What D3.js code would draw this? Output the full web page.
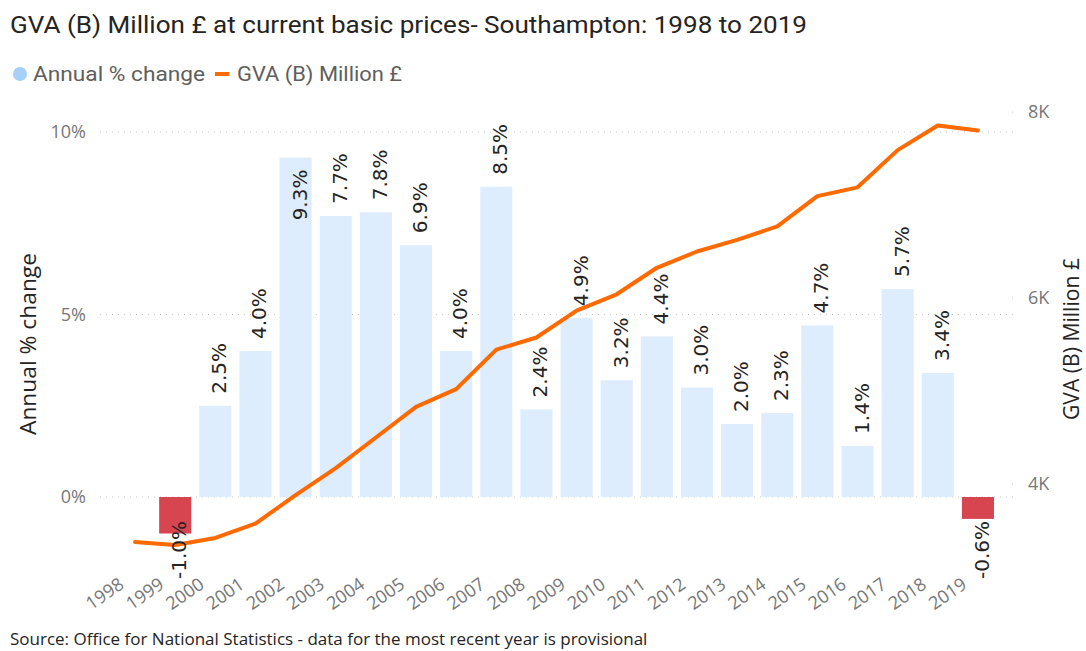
<!DOCTYPE html>
<html>
<head>
<meta charset="utf-8">
<script src="https://cdn.jsdelivr.net/npm/d3@7"></script>
<style>
  body { margin: 0; background: #fff; }
  svg { display: block; font-family: 'Segoe UI', 'Open Sans', sans-serif; }
</style>
</head>
<body>
<svg id="svg"></svg>
<script>
// years on the x axis
const years = [1998, 1999, 2000, 2001, 2002, 2003, 2004, 2005, 2006, 2007, 2008,
  2009, 2010, 2011, 2012, 2013, 2014, 2015, 2016, 2017, 2018, 2019];

// annual % change (no value for 1998)
const pctYears = [1999, 2000, 2001, 2002, 2003, 2004, 2005, 2006, 2007, 2008,
  2009, 2010, 2011, 2012, 2013, 2014, 2015, 2016, 2017, 2018, 2019];
const pctChange = [-1.0, 2.5, 4.0, 9.3, 7.7, 7.8, 6.9, 4.0, 8.5, 2.4,
  4.9, 3.2, 4.4, 3.0, 2.0, 2.3, 4.7, 1.4, 5.7, 3.4, -0.6];

// GVA (B) Million £
const gva = [3376, 3344, 3420, 3575, 3880, 4170, 4500, 4830, 5020, 5445, 5575,
  5865, 6040, 6325, 6500, 6625, 6770, 7095, 7190, 7590, 7855, 7800];

const leftTicks = [0, 5, 10];
const rightTicks = [4000, 6000, 8000];

const width = 1086;
const height = 651;

const svg = d3.select('#svg')
  .attr('width', width)
  .attr('height', height);

// scales
const xScale = d3.scaleBand()
  .domain(years)
  .range([115, 998])
  .paddingInner(0.2)
  .paddingOuter(0.1);

const yLeft = d3.scaleLinear()
  .domain([0, 10])
  .range([497, 132]);

const yRight = d3.scaleLinear()
  .domain([4000, 8000])
  .range([484, 112]);

const plotTop = 118;
const plotBottom = 579;
const cx = d => xScale(d) + xScale.bandwidth() / 2;

// title
svg.append('text')
  .attr('x', 10)
  .attr('y', 33)
  .attr('font-family', 'Roboto, sans-serif')
  .attr('font-size', 24)
  .attr('fill', '#252423')
  .attr('textLength', 797)
  .attr('lengthAdjust', 'spacingAndGlyphs')
  .text('GVA (B) Million £ at current basic prices- Southampton: 1998 to 2019');

// legend
const legend = svg.append('g');
legend.append('circle')
  .attr('cx', 20).attr('cy', 74).attr('r', 7)
  .attr('fill', '#a6d0f7');
legend.append('text')
  .attr('x', 33).attr('y', 81)
  .attr('font-family', 'Roboto, sans-serif')
  .attr('font-size', 21)
  .attr('fill', '#605e5c')
  .attr('textLength', 172)
  .attr('lengthAdjust', 'spacingAndGlyphs')
  .text('Annual % change');
legend.append('line')
  .attr('x1', 215).attr('x2', 229)
  .attr('y1', 74).attr('y2', 74)
  .attr('stroke', '#ff6a00')
  .attr('stroke-width', 4);
legend.append('text')
  .attr('x', 237).attr('y', 81)
  .attr('font-family', 'Roboto, sans-serif')
  .attr('font-size', 21)
  .attr('fill', '#605e5c')
  .attr('textLength', 165)
  .attr('lengthAdjust', 'spacingAndGlyphs')
  .text('GVA (B) Million £');

// dotted gridlines
svg.append('g')
  .selectAll('line')
  .data(leftTicks)
  .join('line')
  .attr('x1', 100).attr('x2', 1013)
  .attr('y1', d => yLeft(d)).attr('y2', d => yLeft(d))
  .attr('stroke', '#c8c8c8')
  .attr('stroke-width', 1)
  .attr('stroke-dasharray', '1,5');

// left tick labels
svg.append('g')
  .selectAll('text')
  .data(leftTicks)
  .join('text')
  .attr('x', 86)
  .attr('y', d => yLeft(d))
  .attr('dy', '0.35em')
  .attr('text-anchor', 'end')
  .attr('font-size', 18)
  .attr('fill', '#777')
  .text(d => d + '%');

// right tick marks + labels
svg.append('g')
  .selectAll('line')
  .data(rightTicks)
  .join('line')
  .attr('x1', 1012).attr('x2', 1013)
  .attr('y1', d => yRight(d)).attr('y2', d => yRight(d))
  .attr('stroke', '#c8c8c8');

svg.append('g')
  .selectAll('text')
  .data(rightTicks)
  .join('text')
  .attr('x', 1028)
  .attr('y', d => yRight(d))
  .attr('dy', '0.35em')
  .attr('font-size', 18)
  .attr('fill', '#777')
  .text(d => (d / 1000) + 'K');

// axis titles
svg.append('text')
  .attr('transform', 'translate(36,344) rotate(-90)')
  .attr('text-anchor', 'middle')
  .attr('font-size', 22)
  .attr('fill', '#252423')
  .attr('textLength', 182)
  .attr('lengthAdjust', 'spacingAndGlyphs')
  .text('Annual % change');

svg.append('text')
  .attr('transform', 'translate(1079,339) rotate(-90)')
  .attr('text-anchor', 'middle')
  .attr('font-size', 21)
  .attr('fill', '#252423')
  .attr('textLength', 162)
  .attr('lengthAdjust', 'spacingAndGlyphs')
  .text('GVA (B) Million £');

// bars
const barData = pctYears.map((y, i) => ({ year: y, value: pctChange[i] }));

svg.append('g')
  .selectAll('rect')
  .data(barData)
  .join('rect')
  .attr('x', d => xScale(d.year))
  .attr('width', xScale.bandwidth())
  .attr('y', d => yLeft(Math.max(0, d.value)))
  .attr('height', d => Math.abs(yLeft(d.value) - yLeft(0)))
  .attr('fill', d => d.value < 0 ? '#d64550' : '#deedfd');

// line
const lineData = years.map((y, i) => ({ year: y, value: gva[i] }));
svg.append('path')
  .datum(lineData)
  .attr('fill', 'none')
  .attr('stroke', '#ff6a00')
  .attr('stroke-width', 4)
  .attr('stroke-linejoin', 'round')
  .attr('stroke-linecap', 'round')
  .attr('d', d3.line().x(d => cx(d.year)).y(d => yRight(d.value)));

// data labels, rotated
const labels = svg.append('g')
  .selectAll('text')
  .data(barData)
  .join('text')
  .attr('font-family', "'DejaVu Sans', sans-serif")
  .attr('font-size', 20)
  .attr('fill', '#252423')
  .text(d => d.value.toFixed(1) + '%');

labels.each(function(d) {
  const len = this.getComputedTextLength();
  let start;
  if (d.value >= 0) {
    const top = yLeft(d.value);
    start = top - 12;
    if (start - len < plotTop) start = top + 12 + len;
  } else {
    const bottom = yLeft(d.value);
    start = Math.min(bottom + 3 + len, plotBottom);
  }
  d3.select(this)
    .attr('transform', `translate(${cx(d.year) + 11},${start}) rotate(-90)`);
});

// x axis labels
svg.append('g')
  .selectAll('text')
  .data(years)
  .join('text')
  .attr('transform', d => `translate(${cx(d) - 10},${587}) rotate(-35)`)
  .attr('text-anchor', 'end')
  .attr('font-size', 18)
  .attr('fill', '#777')
  .text(d => d);

// source
svg.append('text')
  .attr('x', 10)
  .attr('y', 645)
  .attr('font-size', 17)
  .attr('fill', '#252423')
  .text('Source: Office for National Statistics - data for the most recent year is provisional');
</script>
</body>
</html>
